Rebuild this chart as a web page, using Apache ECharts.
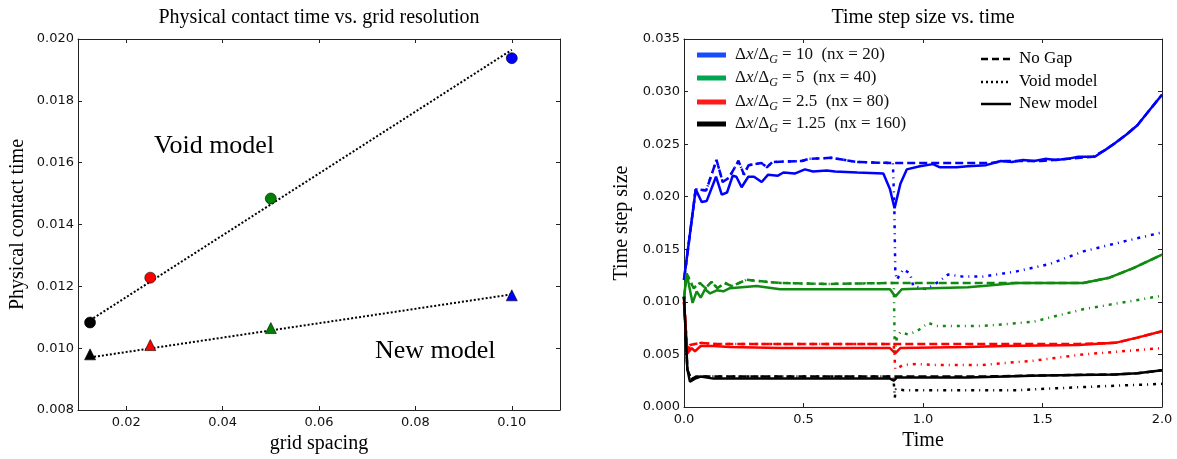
<!DOCTYPE html>
<html>
<head>
<meta charset="utf-8">
<script src="https://cdn.jsdelivr.net/npm/echarts@6/dist/echarts.min.js"></script>
<style>html,body{margin:0;padding:0;background:#fff;}#c{width:1177px;height:459px;}</style>
</head>
<body>
<div id="c"></div>
<script>
// ---------- Left chart data ----------
const gridSpacing = [0.0125, 0.025, 0.05, 0.1];
const pointColors = ['#000000', '#ff0000', '#008000', '#0000ff'];
const voidContact = [0.01083, 0.01228, 0.01484, 0.01938];
const newContact = [0.00980, 0.01010, 0.01065, 0.01171];
const voidFitX = [0.0125, 0.1];
const voidFitY = [0.0109, 0.01965];
const newFitX = [0.0125, 0.1];
const newFitY = [0.00970, 0.01174];
const leftXTicks = [0.02, 0.04, 0.06, 0.08, 0.10];

// ---------- Right chart data: [time, step size] ----------
const blueNew = [[0,0.0121],[0.049,0.0207],[0.074,0.0195],[0.095,0.0196],[0.134,0.0219],[0.158,0.0202],[0.180,0.0204],[0.204,0.0220],[0.219,0.0219],[0.241,0.0209],[0.269,0.0219],[0.293,0.0219],[0.325,0.0214],[0.352,0.0221],[0.393,0.0220],[0.416,0.0223],[0.463,0.0222],[0.506,0.0226],[0.540,0.0224],[0.597,0.0225],[0.632,0.0224],[0.725,0.0223],[0.834,0.0222],[0.862,0.0207],[0.881,0.0189],[0.905,0.0212],[0.932,0.0226],[0.987,0.0229],[1.042,0.0231],[1.071,0.0228],[1.141,0.0228],[1.187,0.0229],[1.264,0.0230],[1.326,0.0234],[1.372,0.0233],[1.419,0.0235],[1.465,0.0234],[1.511,0.0236],[1.557,0.0235],[1.604,0.0236],[1.650,0.0238],[1.681,0.0238],[1.719,0.0238],[1.766,0.0245],[1.804,0.0251],[1.850,0.0259],[1.897,0.0268],[1.943,0.0281],[2.0,0.0297]];
const blueNoGap = [[0,0.0121],[0.049,0.0207],[0.093,0.0206],[0.136,0.0235],[0.162,0.0214],[0.188,0.0218],[0.228,0.0234],[0.251,0.0221],[0.270,0.0230],[0.324,0.0232],[0.347,0.0228],[0.370,0.0233],[0.493,0.0234],[0.524,0.0236],[0.617,0.0237],[0.725,0.0233],[0.874,0.0232],[1.033,0.0232],[1.187,0.0232],[1.280,0.0232],[1.342,0.0234],[1.496,0.0234],[1.712,0.0238],[1.766,0.0245],[1.804,0.0251],[1.850,0.0259],[1.897,0.0268],[1.943,0.0281],[2.0,0.0297]];
const blueVoidTail = [[0.876,0.0232],[0.880,0.0190],[0.884,0.0130],[0.890,0.0121],[0.918,0.0131],[0.945,0.0127],[0.953,0.0121],[0.959,0.0115],[1.015,0.0112],[1.064,0.0119],[1.105,0.0126],[1.168,0.0124],[1.250,0.0124],[1.392,0.0129],[1.530,0.0136],[1.671,0.0148],[1.850,0.0158],[2.0,0.0166]];

const greenNew = [[0,0.0103],[0.011,0.0127],[0.036,0.0099],[0.053,0.0110],[0.070,0.0104],[0.088,0.0112],[0.109,0.0108],[0.137,0.0111],[0.165,0.0110],[0.192,0.0113],[0.304,0.0115],[0.402,0.0112],[0.540,0.0112],[0.862,0.0112],[0.884,0.0105],[0.911,0.0112],[1.033,0.0113],[1.187,0.0114],[1.250,0.0115],[1.390,0.0118],[1.670,0.0118],[1.780,0.0123],[1.880,0.0132],[2.0,0.0145]];
const greenNoGap = [[0,0.0103],[0.011,0.0127],[0.040,0.0113],[0.066,0.0118],[0.090,0.0113],[0.115,0.0119],[0.140,0.0113],[0.170,0.0118],[0.200,0.0115],[0.262,0.0121],[0.300,0.0120],[0.400,0.0118],[0.600,0.0117],[0.876,0.0118],[1.000,0.0118],[1.250,0.0118],[1.390,0.0118],[1.670,0.0118],[1.780,0.0123],[1.880,0.0132],[2.0,0.0145]];
const greenVoidTail = [[0.878,0.0115],[0.882,0.0052],[0.890,0.0065],[0.904,0.0071],[0.938,0.0069],[0.974,0.0072],[1.022,0.0080],[1.057,0.0077],[1.250,0.0077],[1.460,0.0081],[1.670,0.0093],[1.980,0.0105],[2.0,0.0106]];

const redNew = [[0,0.0100],[0.014,0.0051],[0.032,0.0056],[0.046,0.0053],[0.070,0.0058],[0.123,0.0058],[0.190,0.0057],[0.400,0.0056],[0.862,0.0056],[0.884,0.0051],[0.905,0.0056],[1.187,0.0057],[1.342,0.0058],[1.650,0.0059],[1.804,0.0061],[1.897,0.0066],[2.0,0.0072]];
const redNoGap = [[0,0.0100],[0.014,0.0051],[0.025,0.0059],[0.070,0.0061],[0.123,0.0060],[0.400,0.0060],[0.876,0.0060],[1.250,0.0060],[1.650,0.0060],[1.804,0.0061],[1.897,0.0066],[2.0,0.0072]];
const redVoidTail = [[0.878,0.0058],[0.884,0.0036],[0.918,0.0040],[0.974,0.0041],[1.040,0.0040],[1.250,0.0040],[1.460,0.0044],[1.670,0.0050],[2.0,0.0056]];

const blackNew = [[0,0.0105],[0.014,0.0036],[0.025,0.0024],[0.046,0.0027],[0.070,0.0029],[0.123,0.0027],[0.600,0.0027],[0.862,0.0027],[0.878,0.0025],[0.890,0.0028],[1.187,0.0028],[1.496,0.0030],[1.804,0.0031],[1.897,0.0032],[2.0,0.0035]];
const blackNoGap = [[0,0.0105],[0.014,0.0036],[0.030,0.0026],[0.050,0.0029],[0.400,0.0029],[0.876,0.0029],[1.250,0.0029],[1.496,0.0030],[1.804,0.0031],[1.897,0.0032],[2.0,0.0035]];
const blackVoidTail = [[0.878,0.0028],[0.882,0.0009],[0.886,0.0017],[0.920,0.0016],[1.100,0.0016],[1.390,0.0016],[1.670,0.0019],[2.0,0.0022]];

const ratioLabels = ['10', '5', '2.5', '1.25'];
const nxLabels = ['20', '40', '80', '160'];
const styleLabels = ['No Gap', 'Void model', 'New model'];

// ---------- styling ----------
const lineColors = ['#0000ff', '#118a11', '#ff0000', '#000000'];
const swatchColors = ['#1a4cff', '#00a651', '#ff1a1a', '#000000'];
const DASH = [8, 4];
const VOID = [3, 5, 1, 5];
const SERIF = '"Liberation Serif", "DejaVu Serif", serif';
const SANS = '"DejaVu Sans", sans-serif';

const chart = echarts.init(document.getElementById('c'), null, {renderer: 'canvas'});

function valAxis(o) {
  return Object.assign({
    type: 'value',
    axisLine: {show: true, onZero: false, lineStyle: {color: '#222', width: 1}},
    axisTick: {show: true, inside: true, length: 4, lineStyle: {color: '#222'}},
    splitLine: {show: false},
    axisLabel: {color: '#111', fontFamily: SANS, fontSize: 13, margin: 4},
    nameTextStyle: {color: '#000', fontFamily: SERIF, fontSize: 20},
    nameLocation: 'middle'
  }, o);
}
function mirror(o) {
  return valAxis(Object.assign({axisLabel: {show: false}}, o));
}

const xAxes = [
  valAxis({gridIndex: 0, min: 0.01, max: 0.11, position: 'bottom', name: 'grid spacing', nameGap: 24,
    axisLabel: {color: '#111', fontFamily: SANS, fontSize: 13, margin: 6, customValues: leftXTicks, formatter: v => v.toFixed(2)},
    axisTick: {show: true, inside: true, length: 4, lineStyle: {color: '#222'}, customValues: leftXTicks}}),
  mirror({gridIndex: 0, min: 0.01, max: 0.11, position: 'top',
    axisTick: {show: true, inside: true, length: 4, lineStyle: {color: '#222'}, customValues: leftXTicks}}),
  valAxis({gridIndex: 1, min: 0, max: 2, interval: 0.5, position: 'bottom', name: 'Time', nameGap: 24,
    axisLabel: {color: '#111', fontFamily: SANS, fontSize: 13, margin: 6, formatter: v => v.toFixed(1)}}),
  mirror({gridIndex: 1, min: 0, max: 2, interval: 0.5, position: 'top'})
];
const yAxes = [
  valAxis({gridIndex: 0, min: 0.008, max: 0.020, interval: 0.002, position: 'left', name: 'Physical contact time', nameGap: 50,
    axisLabel: {color: '#111', fontFamily: SANS, fontSize: 13, margin: 4, formatter: v => v.toFixed(3)}}),
  mirror({gridIndex: 0, min: 0.008, max: 0.020, interval: 0.002, position: 'right'}),
  valAxis({gridIndex: 1, min: 0, max: 0.035, interval: 0.005, position: 'left', name: 'Time step size', nameGap: 52,
    axisLabel: {color: '#111', fontFamily: SANS, fontSize: 13, margin: 4, formatter: v => v.toFixed(3)}}),
  mirror({gridIndex: 1, min: 0, max: 0.035, interval: 0.005, position: 'right'})
];

const series = [];
// left chart fit lines
series.push({type: 'line', xAxisIndex: 0, yAxisIndex: 0, showSymbol: false, silent: true,
  data: voidFitX.map((x, i) => [x, voidFitY[i]]), lineStyle: {color: '#000', width: 2, type: [2, 2]}, z: 2});
series.push({type: 'line', xAxisIndex: 0, yAxisIndex: 0, showSymbol: false, silent: true,
  data: newFitX.map((x, i) => [x, newFitY[i]]), lineStyle: {color: '#000', width: 2, type: [2, 2]}, z: 2});
series.push({type: 'scatter', xAxisIndex: 0, yAxisIndex: 0, symbol: 'circle', symbolSize: 11, z: 3,
  data: gridSpacing.map((x, i) => ({value: [x, voidContact[i]], itemStyle: {color: pointColors[i], opacity: 1, borderColor: '#000', borderWidth: 0.6}}))});
series.push({type: 'scatter', xAxisIndex: 0, yAxisIndex: 0, symbol: 'triangle', symbolSize: 11, z: 3,
  data: gridSpacing.map((x, i) => ({value: [x, newContact[i]], itemStyle: {color: pointColors[i], opacity: 1, borderColor: '#000', borderWidth: 0.6}}))});

// right chart
const groups = [
  [blueNew, blueNoGap, blueVoidTail],
  [greenNew, greenNoGap, greenVoidTail],
  [redNew, redNoGap, redVoidTail],
  [blackNew, blackNoGap, blackVoidTail]
];
groups.forEach((g, ci) => {
  const [nw, ng, vt] = g;
  const voidFull = ng.filter(p => p[0] < vt[0][0]).concat(vt);
  const base = {type: 'line', xAxisIndex: 2, yAxisIndex: 2, showSymbol: false, silent: true, animation: false};
  series.push(Object.assign({}, base, {data: voidFull, z: 2, lineStyle: {color: lineColors[ci], width: 2.5, type: VOID, cap: 'butt'}}));
  series.push(Object.assign({}, base, {data: ng, z: 3, lineStyle: {color: lineColors[ci], width: 2.5, type: DASH, cap: 'butt'}}));
  series.push(Object.assign({}, base, {data: nw, z: 4, lineStyle: {color: lineColors[ci], width: 2.5, type: 'solid'}}));
});

// graphics: titles, annotations, legends
const graphics = [];
function txt(x, y, text, font, align, vAlign, extra) {
  graphics.push({type: 'text', x: x, y: y, z: 100, silent: true,
    style: Object.assign({text: text, font: font, fill: '#000', align: align || 'left', verticalAlign: vAlign || 'middle'}, extra || {})});
}
txt(319, 18, 'Physical contact time vs. grid resolution', '20px ' + SERIF, 'center');
txt(923, 18, 'Time step size vs. time', '20px ' + SERIF, 'center');
txt(154, 146, 'Void model', '26px ' + SERIF, 'left');
txt(375, 351, 'New model', '26px ' + SERIF, 'left');

const legY = [55, 78, 102, 124];
ratioLabels.forEach((r, i) => {
  graphics.push({type: 'rect', z: 100, silent: true, shape: {x: 697, y: legY[i] - 2.5, width: 29, height: 5}, style: {fill: swatchColors[i]}});
  graphics.push({type: 'text', x: 735, y: legY[i], z: 100, silent: true, style: {
    text: '{d|Δ}{i|x}{d|/Δ}{s|G}{d| = ' + r + '  (nx = ' + nxLabels[i] + ')}',
    verticalAlign: 'middle', align: 'left', fill: '#111',
    rich: {
      d: {fontFamily: SERIF, fontSize: 17, fill: '#111', lineHeight: 22, verticalAlign: 'middle'},
      i: {fontFamily: SERIF, fontSize: 17, fontStyle: 'italic', fill: '#111', lineHeight: 22, verticalAlign: 'middle'},
      s: {fontFamily: SERIF, fontSize: 12, fontStyle: 'italic', fill: '#111', lineHeight: 22, verticalAlign: 'bottom', padding: [0, 0, 0, 0]}
    }
  }});
});
const styleY = [59, 82, 104];
const styleDash = [[7, 4], [2, 3], null];
styleLabels.forEach((s, i) => {
  graphics.push({type: 'line', z: 100, silent: true, shape: {x1: 981, y1: styleY[i], x2: 1011, y2: styleY[i]},
    style: {stroke: '#000', lineWidth: 2.5, lineDash: styleDash[i], lineCap: 'butt'}});
  txt(1019, styleY[i], s, '17px ' + SERIF, 'left');
});

chart.setOption({
  animation: false,
  backgroundColor: '#fff',
  grid: [
    {left: 78, right: 617, top: 39, bottom: 48, containLabel: false},
    {left: 684, right: 15, top: 39, bottom: 52, containLabel: false}
  ],
  xAxis: xAxes,
  yAxis: yAxes,
  series: series,
  graphic: graphics
});
</script>
</body>
</html>
